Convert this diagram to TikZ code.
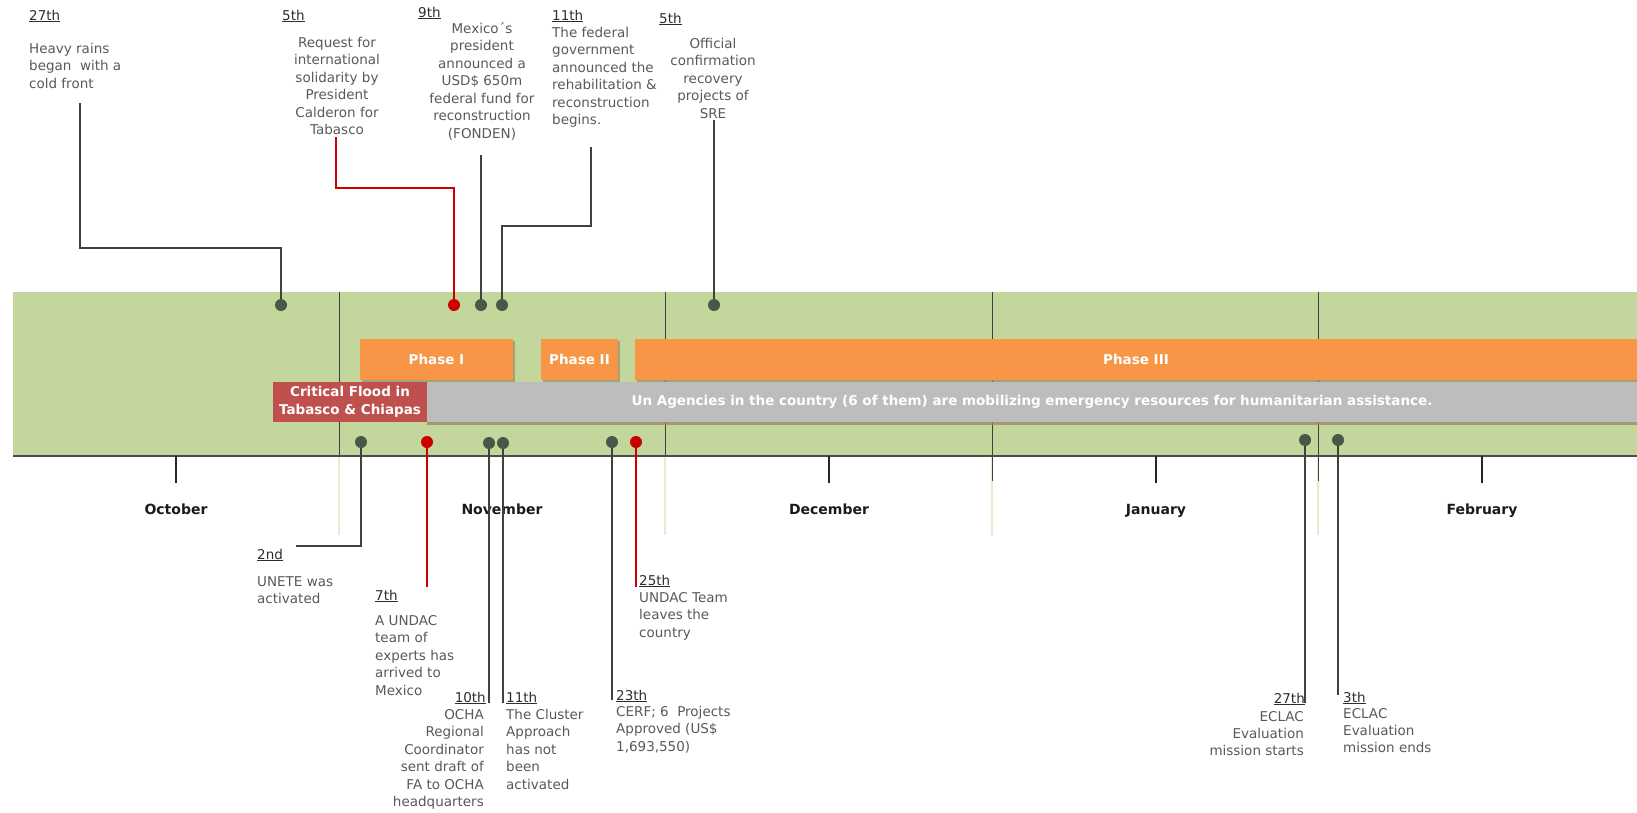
\documentclass[tikz,border=0pt]{standalone}
\usepackage{fontspec}
\setmainfont{DejaVu Sans}
\usetikzlibrary{shadows}
\definecolor{bandc}{RGB}{195,214,155}
\definecolor{orangec}{RGB}{247,150,70}
\definecolor{grayc}{RGB}{189,189,189}
\definecolor{boxred}{RGB}{192,80,77}
\definecolor{redc}{RGB}{205,0,0}
\definecolor{dotc}{RGB}{72,88,72}
\definecolor{linec}{RGB}{64,64,64}
\definecolor{bodyc}{RGB}{89,89,89}
\definecolor{datec}{RGB}{45,45,45}
\definecolor{monthc}{RGB}{26,26,26}
\definecolor{palec}{RGB}{236,234,200}
\definecolor{shadc}{RGB}{150,140,100}
\tikzset{
  gdot/.style={circle, fill=dotc, inner sep=0pt, minimum size=12pt},
  rdot/.style={circle, fill=redc, inner sep=0pt, minimum size=12pt},
  conn/.style={draw=linec, line width=1.3pt},
  rconn/.style={draw=redc, line width=1.3pt},
  datelbl/.style={inner sep=0pt, font=\fontsize{13.5}{17.5}\selectfont, text=datec},
  body/.style={inner sep=0pt, font=\fontsize{13.5}{17.5}\selectfont, text=bodyc},
  tightbody/.style={inner sep=0pt, font=\fontsize{13.5}{16.7}\selectfont, text=bodyc},
  monthlbl/.style={inner sep=0pt, font=\bfseries\fontsize{14}{17}\selectfont, text=monthc},
  phasebar/.style={fill=orangec, inner sep=0pt, minimum height=41pt, text=white,
     font=\bfseries\fontsize{13.5}{17}\selectfont,
     drop shadow={shadow xshift=1.5pt, shadow yshift=-2pt, fill=shadc, opacity=0.7}},
  graybar/.style={fill=grayc, inner sep=0pt, minimum height=40pt, text=white,
     font=\bfseries\fontsize{13.5}{17}\selectfont,
     drop shadow={shadow xshift=0pt, shadow yshift=-3pt, fill=shadc, opacity=0.8}},
  redbox/.style={fill=boxred, inner sep=0pt, minimum height=40pt, text=white, align=center,
     font=\bfseries\fontsize{13.5}{18}\selectfont},
  divider/.style={draw=linec, line width=0.8pt},
  paleline/.style={draw=palec, line width=1.6pt},
  tick/.style={draw=black!85, line width=1.3pt}
}
\begin{document}
\begin{tikzpicture}[x=1pt,y=-1pt]
\useasboundingbox (0,0) rectangle (1637,812);
% band
\fill[bandc] (13,292) rectangle (1637,456);
% pale lines below axis
\foreach \x in {339,665,992,1318} \draw[paleline] (\x,457) -- (\x,535);
% month dividers
\foreach \x in {339,665,992,1318} \draw[divider] (\x,292) -- (\x,456);
\draw[divider] (992,456) -- (992,481);
\draw[divider] (1318,456) -- (1318,481);
% axis
\draw[draw=black!70, line width=1.2pt] (13,456) -- (1637,456);
% month ticks and labels
\foreach \x in {176,829,1156,1482} \draw[tick] (\x,456) -- (\x,483);
\node[monthlbl, anchor=base] (mOct) at (176,514) {October};
\node[monthlbl, anchor=base] (mNov) at (502,514) {November};
\node[monthlbl, anchor=base] (mDec) at (829,514) {December};
\node[monthlbl, anchor=base] (mJan) at (1156,514) {January};
\node[monthlbl, anchor=base] (mFeb) at (1482,514) {February};
% phase bars
\node[phasebar, minimum width=153pt] (p1) at (436.5,359.5) {Phase I};
\node[phasebar, minimum width=77pt] (p2) at (579.5,359.5) {Phase II};
\node[phasebar, minimum width=1002pt] (p3) at (1136,359.5) {Phase III};
% gray bar and red box
\node[graybar, minimum width=1210pt] (ga) at (1032,402) {Un Agencies in the country (6 of them) are mobilizing emergency resources for humanitarian assistance.};
\node[redbox, minimum width=154pt] (cf) at (350,402) {Critical Flood in\\Tabasco \& Chiapas};
% dots top
\node[gdot] (t27) at (281,305) {};
\node[rdot] (t5) at (454,305) {};
\node[gdot] (t9) at (481,305) {};
\node[gdot] (t11) at (502,305) {};
\node[gdot] (t5b) at (714,305) {};
% dots bottom
\node[gdot] (b2) at (361,442) {};
\node[rdot] (b7) at (427,442) {};
\node[gdot] (b10) at (489,443) {};
\node[gdot] (b11) at (503,443) {};
\node[gdot] (b23) at (612,442) {};
\node[rdot] (b25) at (636,442) {};
\node[gdot] (b27) at (1305,440) {};
\node[gdot] (b3) at (1338,440) {};
% connector coordinates
\coordinate (k27) at (80,248);   \coordinate (e27) at (80,103);
\coordinate (k5) at (336,188);   \coordinate (e5) at (336,137);
\coordinate (e9) at (481,155);
\coordinate (k11) at (591,226);  \coordinate (e11) at (591,147);
\coordinate (e5b) at (714,120);
\coordinate (e2) at (296,546);
\coordinate (e7) at (427,587);
\coordinate (e10) at (489,703);
\coordinate (e11b) at (503,703);
\coordinate (e23) at (612,700);
\coordinate (e25) at (636,587);
\coordinate (e27b) at (1305,703);
\coordinate (e3) at (1338,695);
% connectors
\draw[conn] (t27) |- (k27) -- (e27);
\draw[rconn] (t5) |- (k5) -- (e5);
\draw[conn] (t9) -- (e9);
\draw[conn] (t11) |- (k11) -- (e11);
\draw[conn] (t5b) -- (e5b);
\draw[conn] (b2) |- (e2);
\draw[rconn] (b7) -- (e7);
\draw[conn] (b10) -- (e10);
\draw[conn] (b11) -- (e11b);
\draw[conn] (b23) -- (e23);
\draw[rconn] (b25) -- (e25);
\draw[conn] (b27) -- (e27b);
\draw[conn] (b3) -- (e3);
% top labels (multi-line nodes: base anchor = last line baseline)
\node[datelbl, anchor=base west] (d27) at (29,20) {\underline{27th}};
\node[body, anchor=base west, align=left] (x27) at (29,88) {Heavy rains\\began~ with a\\cold front};
\node[datelbl, anchor=base west] (d5) at (282,20) {\underline{5th}};
\node[body, anchor=base, align=center] (x5) at (337,134.5) {Request for\\international\\solidarity by\\President\\Calderon for\\Tabasco};
\node[datelbl, anchor=base west] (d9) at (418,17) {\underline{9th}};
\node[body, anchor=base, align=center] (x9) at (482,138) {Mexico´s\\president\\announced a\\USD\$ 650m\\federal fund for\\reconstruction\\(FONDEN)};
\node[datelbl, anchor=base west] (d11) at (552,20) {\underline{11th}};
\node[body, anchor=base west, align=left] (x11) at (552,124.5) {The federal\\government\\announced the\\rehabilitation \&\\reconstruction\\begins.};
\node[datelbl, anchor=base west] (d5b) at (659,23) {\underline{5th}};
\node[body, anchor=base, align=center] (x5b) at (713,118) {Official\\confirmation\\recovery\\projects of\\SRE};
% bottom labels
\node[datelbl, anchor=base west] (d2) at (257,559) {\underline{2nd}};
\node[body, anchor=base west, align=left] (x2) at (257,603.5) {UNETE was\\activated};
\node[datelbl, anchor=base west] (d7) at (375,600) {\underline{7th}};
\node[body, anchor=base west, align=left] (x7) at (375,695) {A UNDAC\\team of\\experts has\\arrived to\\Mexico};
\node[datelbl, anchor=base east] (d10) at (486,702) {\underline{10th}};
\node[body, anchor=base east, align=right] (x10) at (484,806.5) {OCHA\\Regional\\Coordinator\\sent draft of\\FA to OCHA\\headquarters};
\node[datelbl, anchor=base west] (d11b) at (506,702) {\underline{11th}};
\node[body, anchor=base west, align=left] (x11b) at (506,789) {The Cluster\\Approach\\has not\\been\\activated};
\node[datelbl, anchor=base west] (d23) at (616,700) {\underline{23th}};
\node[body, anchor=base west, align=left] (x23) at (616,751) {CERF; 6~ Projects\\Approved (US\$\\1,693,550)};
\node[datelbl, anchor=base west] (d25) at (639,585) {\underline{25th}};
\node[body, anchor=base west, align=left] (x25) at (639,637) {UNDAC Team\\leaves the\\country};
\node[datelbl, anchor=base east] (d27b) at (1305,703) {\underline{27th}};
\node[tightbody, anchor=base east, align=right] (x27b) at (1304,755) {ECLAC\\Evaluation\\mission starts};
\node[datelbl, anchor=base west] (d3) at (1343,702) {\underline{3th}};
\node[tightbody, anchor=base west, align=left] (x3) at (1343,752) {ECLAC\\Evaluation\\mission ends};
\end{tikzpicture}
\end{document}
